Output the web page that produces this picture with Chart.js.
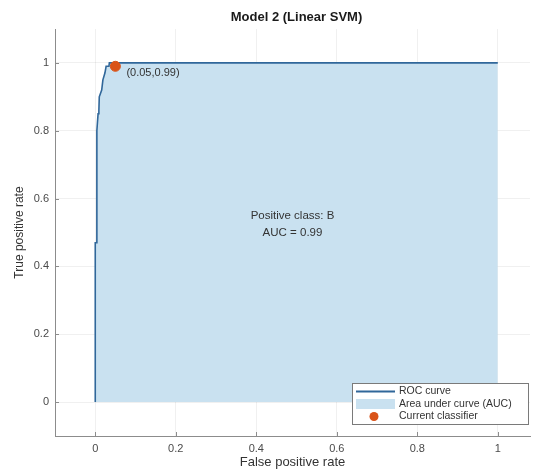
<!DOCTYPE html>
<html>
<head>
<meta charset="utf-8">
<script src="https://cdn.jsdelivr.net/npm/chart.js@4/dist/chart.umd.min.js"></script>
<style>
  html, body { margin: 0; padding: 0; background: #ffffff; overflow: hidden; }
  #wrap { width: 536px; height: 470px; position: relative; }
</style>
</head>
<body>
<div id="wrap"><canvas id="c" width="536" height="470"></canvas></div>
<script>
// ---- data ----
const chartTitle = 'Model 2 (Linear SVM)';
const xAxisTitle = 'False positive rate';
const yAxisTitle = 'True positive rate';
const fpr = [0, 0, 0.004, 0.004, 0.007, 0.009, 0.010, 0.016, 0.019, 0.024, 0.027, 0.034, 0.035, 1];
const tpr = [0, 0.47, 0.47, 0.80, 0.85, 0.86, 0.90, 0.92, 0.95, 0.97, 0.99, 0.99, 1.00, 1.00];
const opPoint = [0.05, 0.99];
const seriesLabels = ['ROC curve', 'Area under curve (AUC)', 'Current classifier'];
const xTicks = [0, 0.2, 0.4, 0.6, 0.8, 1];
const yTicks = [0, 0.2, 0.4, 0.6, 0.8, 1];
const annotLines = ['Positive class: B', 'AUC = 0.99'];
const annotPos = [[0.49, 0.55], [0.49, 0.50]];

const FONT = 'Liberation Sans, Arial, Helvetica, sans-serif';
const lineColor = '#30679a';
const fillColor = 'rgb(201,225,240)';
const dotColor = '#D95319';
const axisColor = '#8c8c8c';
const textColor = '#4a4a4a';

const rocPoints = fpr.map((x, i) => ({ x: x, y: tpr[i] }));

const extras = {
  id: 'extras',
  afterDatasetsDraw(chart) {
    const ctx = chart.ctx;
    const xs = chart.scales.x, ys = chart.scales.y;
    ctx.save();
    // inward tick marks
    ctx.strokeStyle = axisColor;
    ctx.lineWidth = 1;
    xTicks.forEach(v => {
      const px = Math.round(xs.getPixelForValue(v)) + 0.5;
      ctx.beginPath(); ctx.moveTo(px, ys.bottom); ctx.lineTo(px, ys.bottom - 4); ctx.stroke();
    });
    yTicks.forEach(v => {
      const py = Math.round(ys.getPixelForValue(v)) + 0.5;
      ctx.beginPath(); ctx.moveTo(xs.left, py); ctx.lineTo(xs.left + 4, py); ctx.stroke();
    });
    // operating point label
    ctx.fillStyle = '#333333';
    ctx.font = '11px ' + FONT;
    ctx.textAlign = 'left';
    ctx.textBaseline = 'middle';
    const ox = xs.getPixelForValue(opPoint[0]), oy = ys.getPixelForValue(opPoint[1]);
    ctx.fillText('(' + opPoint[0] + ',' + opPoint[1] + ')', ox + 11, oy + 7);
    // center annotation
    ctx.textAlign = 'center';
    ctx.font = '11.5px ' + FONT;
    annotLines.forEach((t, i) => {
      ctx.fillText(t, xs.getPixelForValue(annotPos[i][0]), ys.getPixelForValue(annotPos[i][1]));
    });
    ctx.restore();
  },
  afterDraw(chart) {
    const ctx = chart.ctx;
    const ca = chart.chartArea;
    ctx.save();
    // title
    ctx.fillStyle = '#1a1a1a';
    ctx.font = 'bold 13px ' + FONT;
    ctx.textAlign = 'center';
    ctx.textBaseline = 'middle';
    ctx.fillText(chartTitle, (ca.left + ca.right) / 2 + 4, 17);
    // legend box
    const bx = 352.5, by = 383.5, bw = 176, bh = 41;
    ctx.fillStyle = '#ffffff';
    ctx.fillRect(bx, by, bw, bh);
    ctx.strokeStyle = '#7a7a7a';
    ctx.lineWidth = 1;
    ctx.strokeRect(bx, by, bw, bh);
    const rows = [391.5, 404, 416.5];
    const ds = chart.data.datasets;
    const byLabel = l => ds.find(d => d.label === l);
    seriesLabels.forEach((lab, i) => {
      const d = byLabel(lab);
      const cy = rows[i];
      if (d.legendKind === 'line') {
        ctx.strokeStyle = d.borderColor; ctx.lineWidth = 2;
        ctx.beginPath(); ctx.moveTo(356, cy); ctx.lineTo(395, cy); ctx.stroke();
      } else if (d.legendKind === 'patch') {
        ctx.fillStyle = d.backgroundColor;
        ctx.fillRect(356, cy - 5, 39, 10);
      } else {
        ctx.fillStyle = d.backgroundColor;
        ctx.beginPath(); ctx.arc(374, cy, 4.5, 0, Math.PI * 2); ctx.fill();
      }
      ctx.fillStyle = '#333333';
      ctx.font = '10.5px ' + FONT;
      ctx.textAlign = 'left';
      ctx.textBaseline = 'middle';
      ctx.fillText(lab, 399, cy);
    });
    ctx.restore();
  }
};

new Chart(document.getElementById('c'), {
  type: 'line',
  data: {
    datasets: [
      {
        label: seriesLabels[1], legendKind: 'patch',
        data: rocPoints, parsing: false,
        borderWidth: 0, borderColor: 'rgba(0,0,0,0)',
        backgroundColor: fillColor, fill: 'origin',
        pointRadius: 0, tension: 0, order: 3
      },
      {
        label: seriesLabels[0], legendKind: 'line',
        data: rocPoints, parsing: false,
        borderWidth: 1.6, borderColor: lineColor,
        backgroundColor: lineColor, fill: false,
        pointRadius: 0, tension: 0, order: 2
      },
      {
        label: seriesLabels[2], legendKind: 'dot',
        data: [{ x: opPoint[0], y: opPoint[1] }], parsing: false,
        showLine: false, pointRadius: 5, pointHoverRadius: 5,
        pointBackgroundColor: dotColor, pointBorderColor: dotColor,
        backgroundColor: dotColor, borderColor: dotColor, order: 1
      }
    ]
  },
  options: {
    responsive: false,
    animation: false,
    events: [],
    clip: false,
    layout: { padding: { top: 29, left: 0, right: 0, bottom: 0 } },
    plugins: { legend: { display: false }, tooltip: { enabled: false }, title: { display: false } },
    scales: {
      x: {
        type: 'linear', min: -0.1, max: 1.08,
        afterBuildTicks: s => { s.ticks = xTicks.map(v => ({ value: v })); },
        afterFit: s => { s.height = 34; },
        grid: { color: 'rgba(0,0,0,0.06)', drawTicks: false },
        border: { color: axisColor, width: 1 },
        ticks: {
          padding: 6, color: textColor, font: { family: FONT, size: 11 },
          maxRotation: 0, autoSkip: false,
          callback: v => String(Math.round(v * 10) / 10)
        },
        title: { display: true, text: xAxisTitle, color: '#333333', font: { family: FONT, size: 13 }, padding: { top: 0, bottom: 0 } }
      },
      y: {
        type: 'linear', min: -0.1, max: 1.1,
        afterBuildTicks: s => { s.ticks = yTicks.map(v => ({ value: v })); },
        afterFit: s => { s.width = 55; },
        grid: { color: 'rgba(0,0,0,0.06)', drawTicks: false },
        border: { color: axisColor, width: 1 },
        ticks: {
          padding: 6, color: textColor, font: { family: FONT, size: 11 },
          autoSkip: false,
          callback: v => String(Math.round(v * 10) / 10)
        },
        title: { display: true, text: yAxisTitle, color: '#333333', font: { family: FONT, size: 12 }, padding: { top: 12, bottom: 0 } }
      }
    }
  },
  plugins: [extras]
});
</script>
</body>
</html>
